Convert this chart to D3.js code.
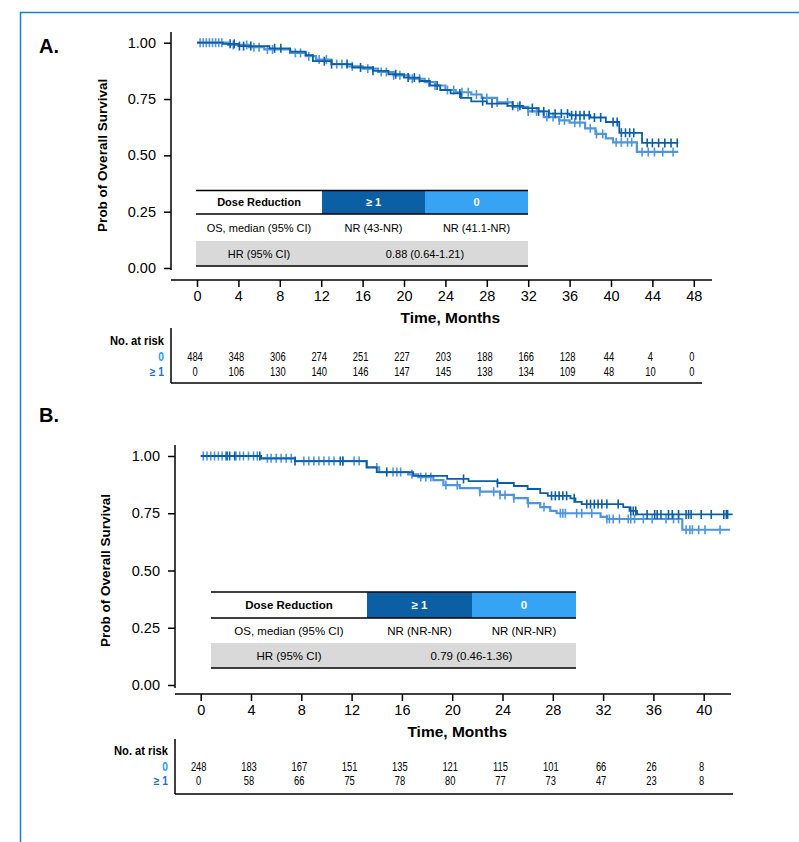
<!DOCTYPE html>
<html>
<head>
<meta charset="utf-8">
<script src="https://cdn.jsdelivr.net/npm/d3@7"></script>
<style>
  body { margin: 0; background: #fff; }
  svg { font-family: "Liberation Sans", Arial, sans-serif; }
</style>
</head>
<body>
<svg id="root" width="799" height="842"></svg>
<script>
// Kaplan-Meier curves, overall survival by dose reduction (two panels)

// ---------- Panel A data ----------
const xTicksA = [0, 4, 8, 12, 16, 20, 24, 28, 32, 36, 40, 44, 48];
const yTicks = [0, 0.25, 0.5, 0.75, 1];

// ">= 1" dose reductions (dark)
const stepTimeA1 = [0, 2.5, 4, 7, 9, 10.5, 11.2, 13, 15, 17, 18.5, 20, 21.5, 22.5, 23.5, 24.5, 25.5, 26.5, 28, 30, 31.5, 33, 34, 36, 38, 39.5, 40.8, 43];
const stepSurvA1 = [1, 0.995, 0.985, 0.975, 0.96, 0.945, 0.918, 0.905, 0.89, 0.875, 0.86, 0.845, 0.83, 0.81, 0.79, 0.775, 0.755, 0.74, 0.73, 0.72, 0.71, 0.695, 0.685, 0.678, 0.668, 0.648, 0.6, 0.555];
const censorA1 = [3.2, 3.6, 4.1, 4.5, 5.2, 7.5, 8.1, 12.3, 13, 14.5, 15.8, 17, 19.2, 20.4, 21, 23.2, 25.4, 27.6, 28.5, 30.5, 31.2, 32.4, 33, 33.5, 34, 34.6, 35.2, 35.8, 36.2, 36.6, 37, 37.4, 37.9, 38.4, 39, 40.2, 40.6, 41, 41.4, 41.8, 42.2, 43.5, 44, 44.6, 45.2, 45.8, 46.4];
const endA1 = 46.5;

// "0" dose reductions (light)
const stepTimeA0 = [0, 3, 5, 6.5, 9, 10.5, 11.5, 13, 14.5, 16, 17.5, 19, 20.5, 22, 23, 24, 25, 26.5, 27.5, 29, 30.5, 32, 33.5, 35, 36, 37.5, 38.5, 39.5, 40.2, 42.5];
const stepSurvA0 = [1, 0.99, 0.98, 0.97, 0.955, 0.94, 0.925, 0.905, 0.895, 0.885, 0.87, 0.855, 0.84, 0.825, 0.81, 0.79, 0.78, 0.77, 0.755, 0.735, 0.715, 0.695, 0.67, 0.655, 0.645, 0.62, 0.595, 0.575, 0.558, 0.515];
const censorA0 = [0.3, 0.6, 0.9, 1.2, 1.5, 1.8, 2.1, 2.4, 3.5, 4.8, 5.5, 6, 6.8, 7.3, 9.5, 10, 10.8, 11.8, 12.5, 13.5, 14, 15, 16.5, 17.8, 18.3, 19, 19.6, 20.8, 21.5, 22.4, 23, 24.2, 24.8, 25.6, 26.2, 27, 28, 29, 30, 31, 32, 32.8, 33.8, 34.4, 35, 35.5, 36.5, 37, 38, 38.6, 39.2, 40.5, 41, 41.6, 42, 43, 43.6, 44.2, 45, 46];
const endA0 = 46.5;

const riskA0 = [484, 348, 306, 274, 251, 227, 203, 188, 166, 128, 44, 4, 0];
const riskA1 = [0, 106, 130, 140, 146, 147, 145, 138, 134, 109, 48, 10, 0];
const tableA = ["NR (43-NR)", "NR (41.1-NR)", "0.88 (0.64-1.21)"];

// ---------- Panel B data ----------
const xTicksB = [0, 4, 8, 12, 16, 20, 24, 28, 32, 36, 40];

const stepTimeB1 = [0, 4.8, 7.5, 13.2, 14, 16.9, 19.6, 21.3, 23.6, 24.9, 26, 27, 27.6, 29.4, 29.8, 30.3, 33.6, 34.1, 34.7];
const stepSurvB1 = [1, 0.99, 0.978, 0.95, 0.93, 0.913, 0.9, 0.89, 0.882, 0.869, 0.856, 0.838, 0.826, 0.815, 0.8, 0.79, 0.777, 0.76, 0.745];
const censorB1 = [2.1, 2.3, 2.7, 4.7, 7.5, 11.1, 11.3, 14.8, 20.9, 23.6, 27.9, 28.2, 28.5, 28.8, 29.1, 29.7, 30.7, 31, 31.3, 31.6, 31.9, 32.3, 33.2, 34.2, 34.4, 34.6, 35.5, 36.1, 36.3, 36.6, 37.2, 37.5, 38, 38.6, 38.8, 39, 39.8, 40.6, 41.6, 41.8, 41.9];
const endB1 = 42.3;

const stepTimeB0 = [0, 4.8, 7.5, 13.2, 14.2, 16.5, 17.3, 18.5, 19.3, 20.6, 22.2, 23.8, 24.9, 26, 27, 27.8, 28.3, 31.8, 32.3, 38.3];
const stepSurvB0 = [1, 0.99, 0.978, 0.95, 0.93, 0.92, 0.908, 0.895, 0.873, 0.86, 0.844, 0.83, 0.816, 0.794, 0.777, 0.76, 0.75, 0.734, 0.725, 0.678];
const censorB0 = [0.2, 0.5, 0.8, 1.1, 1.4, 1.7, 2, 2.8, 3.1, 3.4, 3.8, 4.2, 4.5, 5.3, 5.6, 6, 6.4, 6.8, 7.2, 8.2, 8.6, 9, 9.4, 9.8, 10.2, 10.6, 11.3, 12.2, 12.6, 14, 15.3, 15.6, 15.9, 16.8, 17.5, 17.9, 18.3, 19.5, 20.4, 22.2, 23.3, 23.8, 24.2, 24.9, 26.05, 27.3, 28.6, 28.8, 29, 29.9, 30.3, 31.1, 32.3, 32.5, 32.8, 33.3, 34, 34.2, 34.5, 35.2, 35.9, 37, 37.6, 38, 38.6, 38.9, 39.1, 39.6, 40.1, 41.3];
const endB0 = 42.1;

const riskB0 = [248, 183, 167, 151, 135, 121, 115, 101, 66, 26, 8];
const riskB1 = [0, 58, 66, 75, 78, 80, 77, 73, 47, 23, 8];
const tableB = ["NR (NR-NR)", "NR (NR-NR)", "0.79 (0.46-1.36)"];

// ---------- styles ----------
const darkLine = "#0b5ea6";
const lightLine = "#4f95de";
const darkCell = "#0b5fa5";
const lightCell = "#36a3f5";
const grayCell = "#d9d9d9";

const svg = d3.select("#root");

// Frame of the figure (border cut by the page)
svg.append("line").attr("x1", 20).attr("x2", 799).attr("y1", 12.5).attr("y2", 12.5)
  .attr("stroke", "#1a7fd0").attr("stroke-width", 1.5);
svg.append("line").attr("x1", 20.5).attr("x2", 20.5).attr("y1", 12).attr("y2", 842)
  .attr("stroke", "#1a7fd0").attr("stroke-width", 1.5);

/**
 * Survival value at time t for a step curve
 */
function survAt(times, surv, t) {
  let i = d3.bisectRight(times, t) - 1;
  return surv[Math.max(i, 0)];
}

/**
 * Condensed text (the at-risk table uses a narrow face)
 */
function narrowText(g, x, y, sx) {
  return g.append("text").attr("transform", `translate(${x},${y}) scale(${sx},1)`);
}

/**
 * Draws one KM panel with table and numbers at risk
 */
function drawPanel(p) {
  const x = d3.scaleLinear([0, p.xTicks[p.xTicks.length - 1]], [p.x0, p.x1]);
  const y = d3.scaleLinear([0, 1], [p.y0, p.y1]);

  // Panel letter
  svg.append("text").attr("x", 39).attr("y", p.letterY)
    .attr("font-size", 20).attr("font-weight", "bold").text(p.letter);

  // Y axis
  const yAxis = d3.axisLeft(y).tickValues(yTicks).tickFormat(d3.format(".2f"))
    .tickSize(7).tickPadding(8).tickSizeOuter(0);
  const gy = svg.append("g").attr("transform", `translate(${p.yAxisX},0)`).call(yAxis);
  gy.select(".domain").remove();
  gy.selectAll("text").attr("font-size", 14.5).attr("font-family", "Liberation Sans, Arial").attr("fill", "#000");
  gy.selectAll("line").attr("stroke", "#000").attr("stroke-width", 1.5);
  svg.append("line").attr("x1", p.yAxisX).attr("x2", p.yAxisX)
    .attr("y1", p.yTop).attr("y2", p.yBottom).attr("stroke", "#000").attr("stroke-width", 1.5);

  // X axis
  const xAxis = d3.axisBottom(x).tickValues(p.xTicks).tickSize(7).tickPadding(4).tickSizeOuter(0);
  const gx = svg.append("g").attr("transform", `translate(0,${p.xAxisY})`).call(xAxis);
  gx.select(".domain").remove();
  gx.selectAll("text").attr("font-size", 14.5).attr("font-family", "Liberation Sans, Arial").attr("fill", "#000");
  gx.selectAll("line").attr("stroke", "#000").attr("stroke-width", 1.5);
  svg.append("line").attr("x1", p.yAxisX).attr("x2", p.xEnd)
    .attr("y1", p.xAxisY).attr("y2", p.xAxisY).attr("stroke", "#000").attr("stroke-width", 1.5);

  // Axis labels
  svg.append("text").attr("x", (p.x0 + p.x1) / 2 + 5).attr("y", p.xAxisY + 43)
    .attr("text-anchor", "middle").attr("font-size", 15.5).attr("font-weight", "bold")
    .text("Time, Months");
  svg.append("text").attr("transform", `translate(${p.yLabelX},${(p.y0 + p.y1) / 2}) rotate(-90)`)
    .attr("text-anchor", "middle").attr("font-size", 13.5).attr("font-weight", "bold")
    .text("Prob of Overall Survival");

  // Curves, light first so dark stays on top
  const line = d3.line().curve(d3.curveStepAfter).x((d) => x(d[0])).y((d) => y(d[1]));
  p.series.forEach((s) => {
    const pts = s.times.map((t, i) => [t, s.surv[i]]);
    pts.push([s.end, s.surv[s.surv.length - 1]]);
    svg.append("path").datum(pts).attr("fill", "none")
      .attr("stroke", s.color).attr("stroke-width", s.width).attr("d", line);
    svg.append("g").selectAll("line").data(s.censor).join("line")
      .attr("x1", (d) => x(d)).attr("x2", (d) => x(d))
      .attr("y1", (d) => y(survAt(s.times, s.surv, d)) - 4.5)
      .attr("y2", (d) => y(survAt(s.times, s.surv, d)) + 4.5)
      .attr("stroke", s.color).attr("stroke-width", 1.6);
  });

  // Summary table
  const t = p.table;
  const cols = t.cols; // x edges
  svg.append("rect").attr("x", cols[1]).attr("y", t.top).attr("width", cols[2] - cols[1])
    .attr("height", t.headBottom - t.top).attr("fill", darkCell);
  svg.append("rect").attr("x", cols[2]).attr("y", t.top).attr("width", cols[3] - cols[2])
    .attr("height", t.headBottom - t.top).attr("fill", lightCell);
  svg.append("rect").attr("x", cols[0]).attr("y", t.grayTop).attr("width", cols[3] - cols[0])
    .attr("height", t.bottom - t.grayTop).attr("fill", grayCell);
  [t.top, t.headBottom, t.bottom].forEach((yy) => {
    svg.append("line").attr("x1", cols[0]).attr("x2", cols[3]).attr("y1", yy).attr("y2", yy)
      .attr("stroke", "#000").attr("stroke-width", 1.5);
  });
  const headY = (t.top + t.headBottom) / 2 + 4;
  const mid = (a, b) => (a + b) / 2;
  svg.append("text").attr("x", mid(cols[0], cols[1])).attr("y", headY).attr("text-anchor", "middle")
    .attr("font-size", t.fs).attr("font-weight", "bold").text("Dose Reduction");
  svg.append("text").attr("x", mid(cols[1], cols[2])).attr("y", headY).attr("text-anchor", "middle")
    .attr("font-size", t.fs).attr("font-weight", "bold").attr("fill", "#fff").text("≥ 1");
  svg.append("text").attr("x", mid(cols[2], cols[3])).attr("y", headY).attr("text-anchor", "middle")
    .attr("font-size", t.fs).attr("font-weight", "bold").attr("fill", "#fff").text("0");
  const osY = mid(t.headBottom, t.grayTop) + 4;
  svg.append("text").attr("x", mid(cols[0], cols[1])).attr("y", osY).attr("text-anchor", "middle")
    .attr("font-size", t.fs).text("OS, median (95% CI)");
  svg.append("text").attr("x", mid(cols[1], cols[2])).attr("y", osY).attr("text-anchor", "middle")
    .attr("font-size", t.fs).text(p.tableText[0]);
  svg.append("text").attr("x", mid(cols[2], cols[3])).attr("y", osY).attr("text-anchor", "middle")
    .attr("font-size", t.fs).text(p.tableText[1]);
  const hrY = mid(t.grayTop, t.bottom) + 4;
  svg.append("text").attr("x", mid(cols[0], cols[1])).attr("y", hrY).attr("text-anchor", "middle")
    .attr("font-size", t.fs).text("HR (95% CI)");
  svg.append("text").attr("x", mid(cols[1], cols[3])).attr("y", hrY).attr("text-anchor", "middle")
    .attr("font-size", t.fs).text(p.tableText[2]);

  // Numbers at risk
  const r = p.risk;
  narrowText(svg, r.labelX, r.titleY, 0.86).attr("text-anchor", "end")
    .attr("font-size", 13).attr("font-weight", "bold").text("No. at risk");
  narrowText(svg, r.labelX, r.row0Y, 0.86).attr("text-anchor", "end")
    .attr("font-size", 12).attr("font-weight", "bold").attr("fill", "#2a9bf0").text("0");
  narrowText(svg, r.labelX, r.row1Y, 0.86).attr("text-anchor", "end")
    .attr("font-size", 12).attr("font-weight", "bold").attr("fill", "#1f6ec0").text("≥ 1");
  svg.append("line").attr("x1", r.lineX).attr("x2", r.lineX).attr("y1", r.top).attr("y2", r.bottom)
    .attr("stroke", "#000").attr("stroke-width", 1.5);
  svg.append("line").attr("x1", r.lineX).attr("x2", r.right).attr("y1", r.bottom).attr("y2", r.bottom)
    .attr("stroke", "#000").attr("stroke-width", 1.5);
  [[p.risk0, r.row0Y], [p.risk1, r.row1Y]].forEach(([vals, yy]) => {
    vals.forEach((d, i) => {
      narrowText(svg, x(p.xTicks[i]) - 2, yy, 0.78)
        .attr("text-anchor", "middle").attr("font-size", 12).text(d);
    });
  });
}

drawPanel({
  letter: "A.", letterY: 53,
  xTicks: xTicksA, x0: 197, x1: 693.8,
  y0: 268, y1: 42.7, yAxisX: 171, yTop: 32, yBottom: 270,
  xAxisY: 280, xEnd: 712, yLabelX: 107,
  series: [
    { times: stepTimeA0, surv: stepSurvA0, censor: censorA0, end: endA0, color: lightLine, width: 2.2 },
    { times: stepTimeA1, surv: stepSurvA1, censor: censorA1, end: endA1, color: darkLine, width: 1.8 }
  ],
  table: { cols: [196, 322, 425, 528], top: 190.5, headBottom: 214, grayTop: 241, bottom: 266, fs: 11 },
  tableText: tableA,
  risk: { labelX: 164, titleY: 344.5, row0Y: 361, row1Y: 375.5, lineX: 171, top: 328, bottom: 383, right: 702 },
  risk0: riskA0, risk1: riskA1
});

drawPanel({
  letter: "B.", letterY: 422,
  xTicks: xTicksB, x0: 200.7, x1: 703.7,
  y0: 685, y1: 456, yAxisX: 175, yTop: 445, yBottom: 688,
  xAxisY: 694, xEnd: 731, yLabelX: 110,
  series: [
    { times: stepTimeB0, surv: stepSurvB0, censor: censorB0, end: endB0, color: lightLine, width: 2.2 },
    { times: stepTimeB1, surv: stepSurvB1, censor: censorB1, end: endB1, color: darkLine, width: 1.8 }
  ],
  table: { cols: [211, 367, 472, 576], top: 592, headBottom: 618, grayTop: 643, bottom: 668, fs: 11.5 },
  tableText: tableB,
  risk: { labelX: 168, titleY: 754.5, row0Y: 770.5, row1Y: 785, lineX: 175, top: 739, bottom: 794, right: 733 },
  risk0: riskB0, risk1: riskB1
});
</script>
</body>
</html>
